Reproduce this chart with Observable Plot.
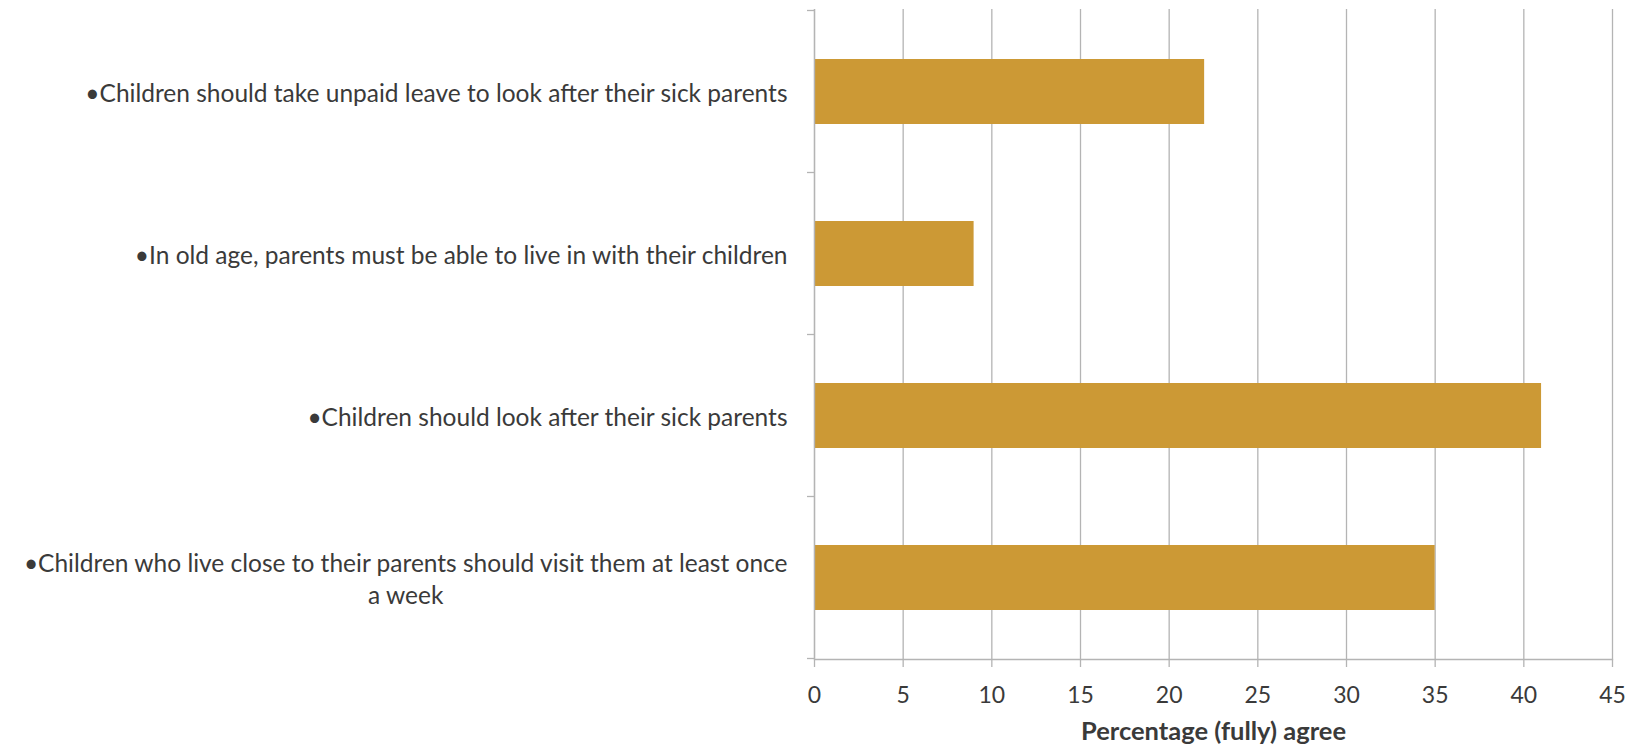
<!DOCTYPE html>
<html><head><meta charset="utf-8">
<script src="https://cdn.jsdelivr.net/npm/d3@7"></script>
<script src="https://cdn.jsdelivr.net/npm/@observablehq/plot@0.6"></script>
<style>html,body{margin:0;padding:0;background:#fff}svg{display:block}</style>
</head><body><div id="chart"></div>
<script>
const statements = [
  "•Children should take unpaid leave to look after their sick parents",
  "•In old age, parents must be able to live in with their children",
  "•Children should look after their sick parents",
  "•Children who live close to their parents should visit them at least once\na week"
];
const agree = [22, 9, 41, 35];
const xTicks = [0, 5, 10, 15, 20, 25, 30, 35, 40, 45];
const axisTitle = "Percentage (fully) agree";

const data = statements.map((s, i) => ({statement: s, value: agree[i]}));

const barColor = "#CC9935";
const gridColor = "#b4b4b4";
const textColor = "#3a3a3a";
const font = "Lato, 'Open Sans', sans-serif";

// Tick marks at the category band boundaries (Excel style), from the y band scale
function bandBoundaryTicks(index, scales, values, dims) {
  const y = scales.y;
  const dom = y.domain();
  const bw = y.bandwidth();
  const step = y.step();
  const x0 = dims.marginLeft;
  const g = d3.create("svg:g").attr("stroke", gridColor).attr("stroke-width", 1.3);
  const centers = dom.map(d => y(d) + bw / 2);
  const bounds = centers.map(c => c - step / 2).concat([centers[centers.length - 1] + step / 2]);
  for (const b of bounds) {
    g.append("line").attr("x1", x0 - 7).attr("x2", x0).attr("y1", b).attr("y2", b);
  }
  return g.node();
}

const chart = Plot.plot({
  width: 1636,
  height: 751,
  marginLeft: 814,
  marginRight: 24,
  marginTop: 9,
  marginBottom: 92,
  style: {fontFamily: font, background: "#fff"},
  x: {domain: [0, 45], ticks: xTicks},
  y: {domain: statements, paddingInner: 0.6, paddingOuter: 0.3, axis: null},
  marks: [
    Plot.gridX(xTicks, {stroke: gridColor, strokeOpacity: 1, strokeWidth: 1.3}),
    Plot.frame({anchor: "bottom", stroke: gridColor, strokeWidth: 1.3}),
    Plot.barX(data, {x: "value", y: "statement", fill: barColor}),
    Plot.ruleX([0], {stroke: gridColor, strokeWidth: 1.3}),
    bandBoundaryTicks,
    Plot.axisX(xTicks, {tickSize: 8, tickPadding: 19, fontSize: 23, stroke: gridColor, strokeWidth: 1.3, fill: textColor, label: null}),
    Plot.text(data, {y: "statement", text: "statement", frameAnchor: "left", dx: -27, textAnchor: "end", lineAnchor: "middle", fontSize: 24.5, fill: textColor, lineHeight: 1.27}),
    Plot.text([axisTitle], {frameAnchor: "bottom", dy: 80, text: d => d, fontSize: 25.5, fontWeight: "bold", fill: textColor})
  ]
});
document.getElementById("chart").appendChild(chart);

// Excel centres the wrapped continuation line under the first line
chart.querySelectorAll("text").forEach(t => {
  const spans = t.querySelectorAll("tspan");
  if (spans.length > 1) {
    const w = spans[0].getComputedTextLength();
    for (let i = 1; i < spans.length; i++) {
      spans[i].setAttribute("x", -w / 2);
      spans[i].style.textAnchor = "middle";
    }
  }
});
</script>
</body></html>
